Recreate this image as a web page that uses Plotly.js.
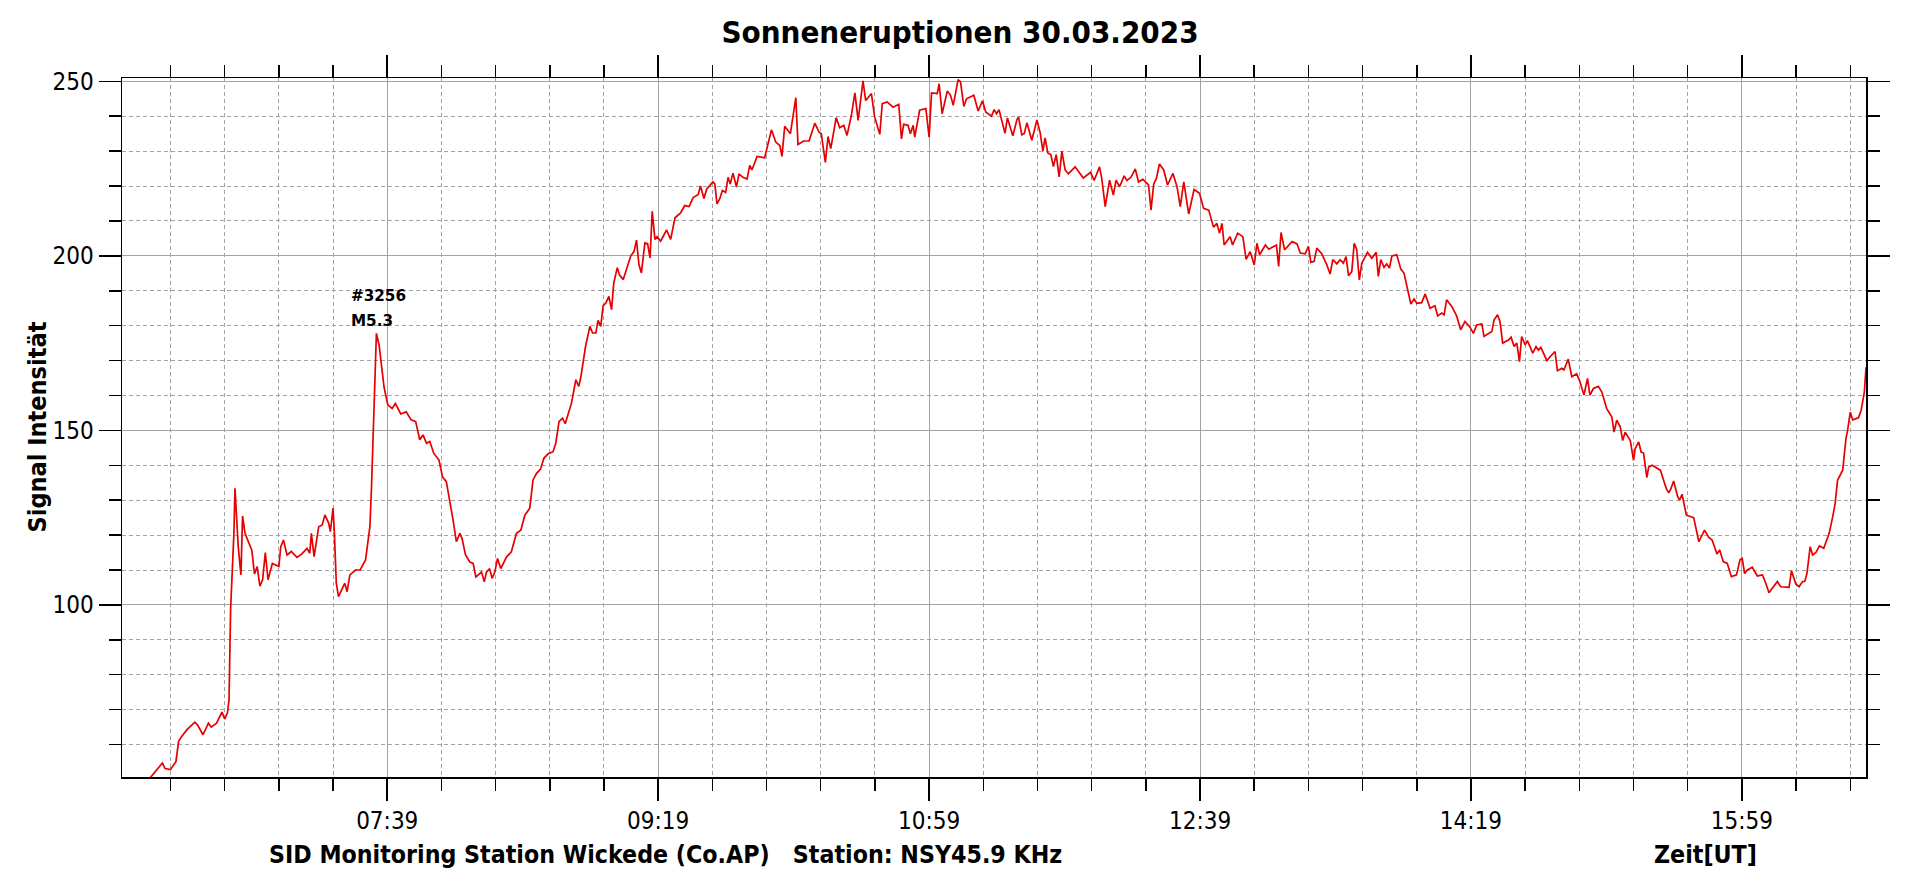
<!DOCTYPE html>
<html>
<head>
<meta charset="utf-8">
<script src="https://cdn.plot.ly/plotly-3.0.1.min.js"></script>
<style>
  html, body { margin: 0; padding: 0; background: #ffffff; }
  #chart { width: 1920px; height: 879px; }
</style>
</head>
<body>
<div id="chart"></div>
<script>
// ---- Data ----
const day = "2023-03-30";

const times = [
  "06:11:00","06:13:00","06:16:00","06:17:00","06:19:00","06:21:00","06:22:00","06:23:00","06:25:00","06:28:00",
  "06:29:00","06:31:00","06:33:00","06:34:00","06:36:00","06:38:00","06:39:00","06:40:00","06:40:36","06:41:12",
  "06:42:00","06:42:24","06:42:48","06:43:24","06:44:00","06:45:00","06:45:36","06:46:30","06:47:48","06:49:00",
  "06:50:00","06:51:00","06:52:00","06:53:00","06:54:00","06:55:00","06:56:36","06:59:00","06:59:42","07:00:42",
  "07:02:00","07:03:36","07:05:42","07:07:30","07:09:24","07:10:24","07:11:00","07:12:00","07:13:42","07:15:00",
  "07:16:00","07:17:24","07:18:00","07:19:00","07:19:30","07:20:12","07:21:00","07:22:18","07:23:18","07:24:12",
  "07:25:12","07:27:18","07:29:00","07:31:00","07:31:48","07:32:36","07:33:12","07:34:00","07:34:42","07:35:00",
  "07:36:00","07:36:48","07:37:48","07:39:12","07:40:48","07:42:00","07:44:00","07:46:00","07:47:48","07:49:30",
  "07:51:00","07:52:12","07:53:30","07:54:42","07:56:12","07:58:06","07:59:24","08:00:48","08:02:18","08:03:18",
  "08:04:30","08:05:48","08:06:36","08:07:54","08:09:30","08:10:42","08:11:42","08:13:48","08:14:48","08:15:36",
  "08:16:48","08:17:42","08:18:42","08:19:42","08:20:54","08:23:00","08:24:48","08:26:42","08:28:18","08:29:48",
  "08:31:36","08:32:48","08:34:06","08:35:36","08:36:48","08:38:24","08:40:12","08:41:12","08:42:24","08:43:42",
  "08:44:42","08:45:48","08:47:00","08:48:36","08:49:42","08:50:30","08:51:18","08:52:12","08:53:48","08:54:48",
  "08:56:00","08:56:48","08:57:48","08:58:42","08:59:42","09:00:48","09:01:48","09:02:36","09:03:54","09:04:48",
  "09:06:06","09:07:36","09:08:54","09:10:06","09:11:00","09:11:54","09:12:48","09:14:06","09:15:06","09:16:00",
  "09:16:48","09:17:48","09:18:36","09:19:54","09:22:06","09:23:36","09:25:12","09:27:12","09:28:48","09:30:24",
  "09:31:54","09:33:48","09:34:36","09:35:54","09:36:54","09:39:12","09:39:54","09:40:42","09:41:42","09:42:42",
  "09:43:54","09:44:48","09:45:36","09:46:36","09:47:54","09:48:48","09:50:18","09:51:48","09:52:48","09:53:36",
  "09:55:30","09:58:18","09:59:36","10:00:48","10:02:24","10:03:54","10:04:42","10:05:42","10:07:48","10:08:48",
  "10:09:48","10:10:36","10:12:42","10:14:42","10:16:48","10:18:24","10:19:12","10:20:42","10:21:42","10:22:42",
  "10:24:42","10:26:00","10:27:30","10:28:42","10:30:18","10:31:36","10:32:48","10:34:36","10:35:36","10:37:42",
  "10:38:54","10:40:48","10:41:42","10:43:30","10:45:42","10:47:48","10:48:48","10:49:36","10:51:12","10:52:06",
  "10:53:06","10:53:42","10:55:30","10:57:48","10:59:00","10:59:54","11:02:00","11:02:42","11:03:48","11:05:42",
  "11:06:54","11:07:54","11:09:42","11:10:36","11:11:48","11:12:48","11:15:30","11:17:06","11:18:42","11:19:54",
  "11:22:00","11:23:00","11:23:54","11:24:48","11:27:00","11:27:54","11:29:54","11:31:24","11:32:00","11:33:12",
  "11:34:06","11:35:06","11:36:54","11:38:48","11:40:00","11:41:00","11:41:48","11:42:48","11:43:54","11:44:54",
  "11:45:54","11:47:00","11:48:00","11:49:12","11:50:24","11:52:54","11:54:42","11:55:54","11:58:36","11:59:54",
  "12:01:54","12:02:42","12:04:00","12:05:36","12:07:00","12:08:00","12:09:18","12:11:00","12:12:00","12:13:30",
  "12:15:06","12:16:18","12:17:54","12:20:00","12:20:54","12:21:54","12:22:54","12:24:00","12:25:36","12:27:00",
  "12:29:00","12:30:30","12:31:42","12:33:00","12:34:48","12:36:48","12:38:48","12:40:18","12:42:12","12:44:00",
  "12:45:12","12:46:12","12:47:06","12:47:54","12:50:06","12:51:00","12:52:54","12:54:48","12:56:00","12:57:30",
  "12:59:00","13:00:00","13:01:00","13:03:06","13:04:24","13:07:12","13:08:00","13:08:54","13:10:12","13:13:00",
  "13:14:48","13:16:00","13:17:48","13:19:00","13:19:54","13:21:06","13:22:06","13:23:54","13:25:48","13:27:00",
  "13:28:00","13:29:30","13:30:42","13:31:54","13:32:54","13:33:48","13:35:00","13:35:54","13:36:48","13:37:48",
  "13:38:42","13:40:48","13:42:24","13:44:00","13:44:48","13:45:42","13:46:54","13:47:54","13:48:54","13:49:48",
  "13:51:36","13:53:06","13:54:18","13:55:18","13:56:48","13:58:00","13:59:00","14:00:48","14:02:06","14:03:54",
  "14:05:42","14:06:42","14:08:12","14:09:06","14:10:00","14:11:54","14:13:42","14:15:12","14:16:48","14:18:42",
  "14:19:54","14:21:06","14:23:00","14:23:48","14:25:24","14:26:42","14:27:30","14:28:48","14:29:42","14:30:42",
  "14:32:48","14:33:48","14:34:54","14:35:54","14:36:54","14:37:42","14:39:00","14:39:48","14:40:48","14:41:48",
  "14:43:00","14:43:54","14:44:48","14:47:00","14:48:48","14:50:00","14:50:54","14:52:30","14:53:18","14:54:54",
  "14:56:12","14:58:00","14:59:00","15:00:42","15:02:00","15:02:54","15:04:12","15:06:00","15:07:18","15:09:06",
  "15:11:00","15:11:48","15:12:48","15:14:06","15:15:00","15:15:54","15:17:48","15:19:00","15:19:36","15:20:54",
  "15:21:48","15:22:42","15:23:54","15:24:36","15:25:48","15:28:54","15:31:06","15:32:00","15:32:48","15:33:48",
  "15:35:18","15:36:00","15:36:54","15:38:30","15:41:12","15:43:06","15:45:12","15:46:48","15:48:00","15:49:48",
  "15:50:48","15:52:06","15:53:36","15:55:06","15:57:00","15:58:18","15:59:06","16:00:00","16:01:00","16:02:48",
  "16:04:42","16:06:36","16:07:48","16:09:00","16:10:12","16:12:06","16:13:18","16:14:48","16:16:24","16:17:18",
  "16:18:54","16:20:06","16:21:24","16:22:12","16:23:00","16:24:12","16:25:06","16:26:18","16:27:36","16:29:12",
  "16:31:12","16:32:30","16:33:24","16:34:18","16:36:12","16:37:24","16:38:00","16:39:00","16:39:54","16:42:00",
  "16:43:00","16:44:12","16:44:48"
];

const signal = [
  50.0,51.8,54.7,53.1,52.8,55.1,60.9,62.2,64.2,66.4,
  65.6,62.8,66.1,65.0,66.1,69.3,67.3,69.0,72.8,99.0,
  113.8,120.5,133.4,125.3,116.7,108.6,125.5,120.5,117.7,115.7,
  108.9,111.0,105.4,107.2,115.0,107.2,111.9,111.0,116.7,118.6,
  114.3,115.3,113.6,114.6,116.2,114.8,120.5,113.8,122.4,122.9,
  125.8,123.4,121.0,127.7,120.5,106.2,102.4,104.3,106.2,103.8,
  108.6,110.0,110.0,112.9,117.7,122.4,133.9,154.9,167.3,177.8,
  174.4,169.2,162.5,157.3,156.3,157.7,154.7,155.3,153.0,152.5,
  147.3,148.7,146.3,146.8,143.4,141.5,136.7,135.3,129.1,124.3,
  118.1,120.5,119.0,114.3,112.3,111.9,108.0,109.4,106.6,109.4,
  110.4,107.6,109.4,113.3,110.4,113.7,115.2,120.5,121.4,125.7,
  127.7,135.8,137.7,138.9,142.0,143.3,143.9,146.3,152.5,153.5,
  151.9,154.9,157.8,164.5,162.6,165.5,169.3,174.1,179.8,177.9,
  177.9,181.5,179.8,185.7,186.5,188.4,184.6,192.2,196.6,194.4,
  193.2,197.0,200.0,201.3,204.5,197.5,195.1,203.7,203.5,199.4,
  212.8,204.7,205.5,204.2,207.4,204.7,210.9,212.2,214.4,214.1,
  216.7,217.6,220.0,216.4,219.1,221.2,220.6,214.9,216.3,218.7,
  218.2,222.5,220.6,223.7,219.7,223.5,222.5,222.0,225.9,224.6,
  228.5,228.1,232.1,236.1,232.6,231.6,228.5,237.1,235.0,240.0,
  245.3,231.9,232.9,232.9,238.0,235.4,235.0,226.8,234.2,230.7,
  239.6,236.7,237.4,234.5,240.2,246.7,238.8,250.1,244.5,246.5,
  239.8,234.8,243.6,244.1,242.6,243.4,233.5,237.7,237.4,235.0,
  237.4,234.0,241.7,242.2,234.0,246.7,246.5,249.3,240.7,247.2,
  246.0,243.1,250.5,249.8,242.8,245.0,246.0,241.5,244.4,241.2,
  240.0,241.9,240.7,241.9,235.1,239.5,234.4,239.0,239.8,234.7,
  235.0,238.1,233.1,238.9,235.2,230.0,233.8,229.5,229.0,225.6,
  229.0,222.6,230.0,224.6,223.5,225.5,223.7,222.3,223.9,221.6,
  225.5,222.3,214.1,221.7,217.4,221.7,219.8,222.9,221.6,222.5,
  224.9,221.2,221.9,220.3,213.1,220.6,222.2,226.3,224.6,220.3,
  223.6,219.8,214.1,221.2,212.0,219.0,217.9,213.6,213.1,208.2,
  209.3,206.5,209.3,203.1,205.5,203.1,206.5,205.5,199.0,201.2,
  197.4,203.6,200.3,203.1,201.9,203.1,197.0,206.7,201.7,204.1,
  203.4,200.8,200.6,202.7,198.1,198.4,202.2,200.6,197.4,194.8,
  198.9,197.7,198.9,197.9,199.8,194.3,195.5,203.6,201.9,193.1,
  197.9,201.0,199.3,201.0,194.1,198.9,196.7,197.7,196.5,200.0,
  200.3,196.2,195.0,191.7,186.2,187.6,186.4,186.6,189.1,185.0,
  185.7,182.8,183.6,183.1,187.4,185.5,182.8,178.8,181.2,179.5,
  177.8,180.2,180.5,176.9,177.8,178.3,181.6,183.1,181.2,175.0,
  175.9,176.7,174.0,175.0,169.7,176.9,174.5,175.7,174.0,172.1,
  174.0,173.0,173.8,170.0,171.6,172.6,167.1,167.8,167.3,170.4,
  165.4,166.2,164.4,160.1,164.9,160.1,162.0,162.6,161.0,156.2,
  153.8,149.5,152.9,151.0,147.1,149.5,147.1,141.4,144.8,146.7,
  143.8,143.5,136.5,139.5,140.0,138.6,133.3,132.1,133.3,135.5,
  131.0,130.0,131.7,125.7,125.0,118.1,121.4,119.3,118.6,114.6,
  115.7,112.4,111.9,108.1,108.6,112.9,113.3,109.0,110.0,110.8,
  108.3,108.6,106.2,103.5,104.8,106.7,105.2,105.0,105.0,109.8,
  106.0,105.2,106.7,106.7,109.0,116.7,114.3,115.0,116.9,116.2,
  120.5,125.2,129.0,135.7,138.6,147.6,150.0,155.2,153.0,153.6,
  155.7,161.0,168.1
];

const xTickLabels = ["07:39", "09:19", "10:59", "12:39", "14:19", "15:59"];
const yTickValues = [100, 150, 200, 250];

const titleText = "Sonneneruptionen 30.03.2023";
const yTitleText = "Signal Intensität";
const stationText = "SID Monitoring Station Wickede (Co.AP)   Station: NSY45.9 KHz";
const zeitText = "Zeit[UT]";
const flareId = "#3256";
const flareClass = "M5.3";
const flareLabelTime = "07:25:00";
const flareLabelY = [188.5, 181.4];

// ---- Build ----
const FONT = "DejaVu Sans Condensed, DejaVu Sans, sans-serif";
const xs = times.map(t => day + " " + t);
const nb = s => s.replace(/ /g, "\u00a0");

const trace = {
  type: "scatter",
  mode: "lines",
  x: xs,
  y: signal,
  line: { color: "#e60000", width: 1.7 },
  hoverinfo: "x+y"
};

const gridCol = "#a3a3a3";

const layout = {
  width: 1920,
  height: 879,
  paper_bgcolor: "#ffffff",
  plot_bgcolor: "#ffffff",
  margin: { l: 122, r: 54, t: 78, b: 102, pad: 0 },
  showlegend: false,
  title: {
    text: "<b>" + titleText + "</b>",
    font: { family: FONT, size: 31, color: "#000" },
    xref: "container", x: 0.5, xanchor: "center",
    yref: "container", y: 1 - 32 / 879, yanchor: "middle"
  },
  xaxis: {
    type: "date",
    range: [day + " 06:01:06", day + " 16:44:48"],
    tickmode: "array",
    tickvals: xTickLabels.map(t => day + " " + t),
    ticktext: xTickLabels,
    ticks: "outside",
    ticklen: 22,
    tickwidth: 1.5,
    tickcolor: "#000",
    tickfont: { family: FONT, size: 24, color: "#000" },
    showline: true,
    linecolor: "#000",
    linewidth: 1.5,
    mirror: "ticks",
    showgrid: true,
    gridcolor: gridCol,
    gridwidth: 1,
    zeroline: false,
    minor: {
      tickmode: "linear",
      tick0: day + " 07:39",
      dtick: 20 * 60 * 1000,
      ticks: "outside",
      ticklen: 12,
      tickwidth: 1.5,
      tickcolor: "#000",
      showgrid: true,
      gridcolor: gridCol,
      gridwidth: 1,
      griddash: "4px,3px"
    }
  },
  yaxis: {
    range: [50.7, 250.95],
    tickmode: "array",
    tickvals: yTickValues,
    ticktext: yTickValues.map(String),
    ticks: "outside",
    ticklen: 22,
    tickwidth: 1.5,
    tickcolor: "#000",
    tickfont: { family: FONT, size: 24, color: "#000" },
    showline: true,
    linecolor: "#000",
    linewidth: 1.5,
    mirror: "ticks",
    showgrid: true,
    gridcolor: gridCol,
    gridwidth: 1,
    zeroline: false,
    minor: {
      tickmode: "linear",
      tick0: 0,
      dtick: 10,
      ticks: "outside",
      ticklen: 12,
      tickwidth: 1.5,
      tickcolor: "#000",
      showgrid: true,
      gridcolor: gridCol,
      gridwidth: 1,
      griddash: "4px,3px"
    }
  },
  annotations: [
    {
      text: "<b>" + yTitleText + "</b>",
      xref: "paper", yref: "paper",
      x: (37 - 122) / 1744, y: 0.5,
      xanchor: "center", yanchor: "middle",
      textangle: -90, showarrow: false,
      font: { family: FONT, size: 25, color: "#000" }
    },
    {
      text: "<b>" + nb(stationText) + "</b>",
      xref: "paper", yref: "paper",
      x: (267 - 122) / 1744, y: (777 - 854) / 699,
      xanchor: "left", yanchor: "middle",
      showarrow: false,
      font: { family: FONT, size: 24.7, color: "#000" }
    },
    {
      text: "<b>" + zeitText + "</b>",
      xref: "paper", yref: "paper",
      x: (1652 - 122) / 1744, y: (777 - 854) / 699,
      xanchor: "left", yanchor: "middle",
      showarrow: false,
      font: { family: FONT, size: 24.7, color: "#000" }
    },
    {
      text: "<b>" + flareId + "</b>",
      xref: "x", yref: "y",
      x: day + " " + flareLabelTime, y: flareLabelY[0],
      xanchor: "left", yanchor: "middle",
      showarrow: false,
      font: { family: "DejaVu Sans, sans-serif", size: 15.2, color: "#000" }
    },
    {
      text: "<b>" + flareClass + "</b>",
      xref: "x", yref: "y",
      x: day + " " + flareLabelTime, y: flareLabelY[1],
      xanchor: "left", yanchor: "middle",
      showarrow: false,
      font: { family: "DejaVu Sans, sans-serif", size: 15.2, color: "#000" }
    }
  ]
};

Plotly.newPlot("chart", [trace], layout, { displayModeBar: false, responsive: false, staticPlot: true });
</script>
</body>
</html>
